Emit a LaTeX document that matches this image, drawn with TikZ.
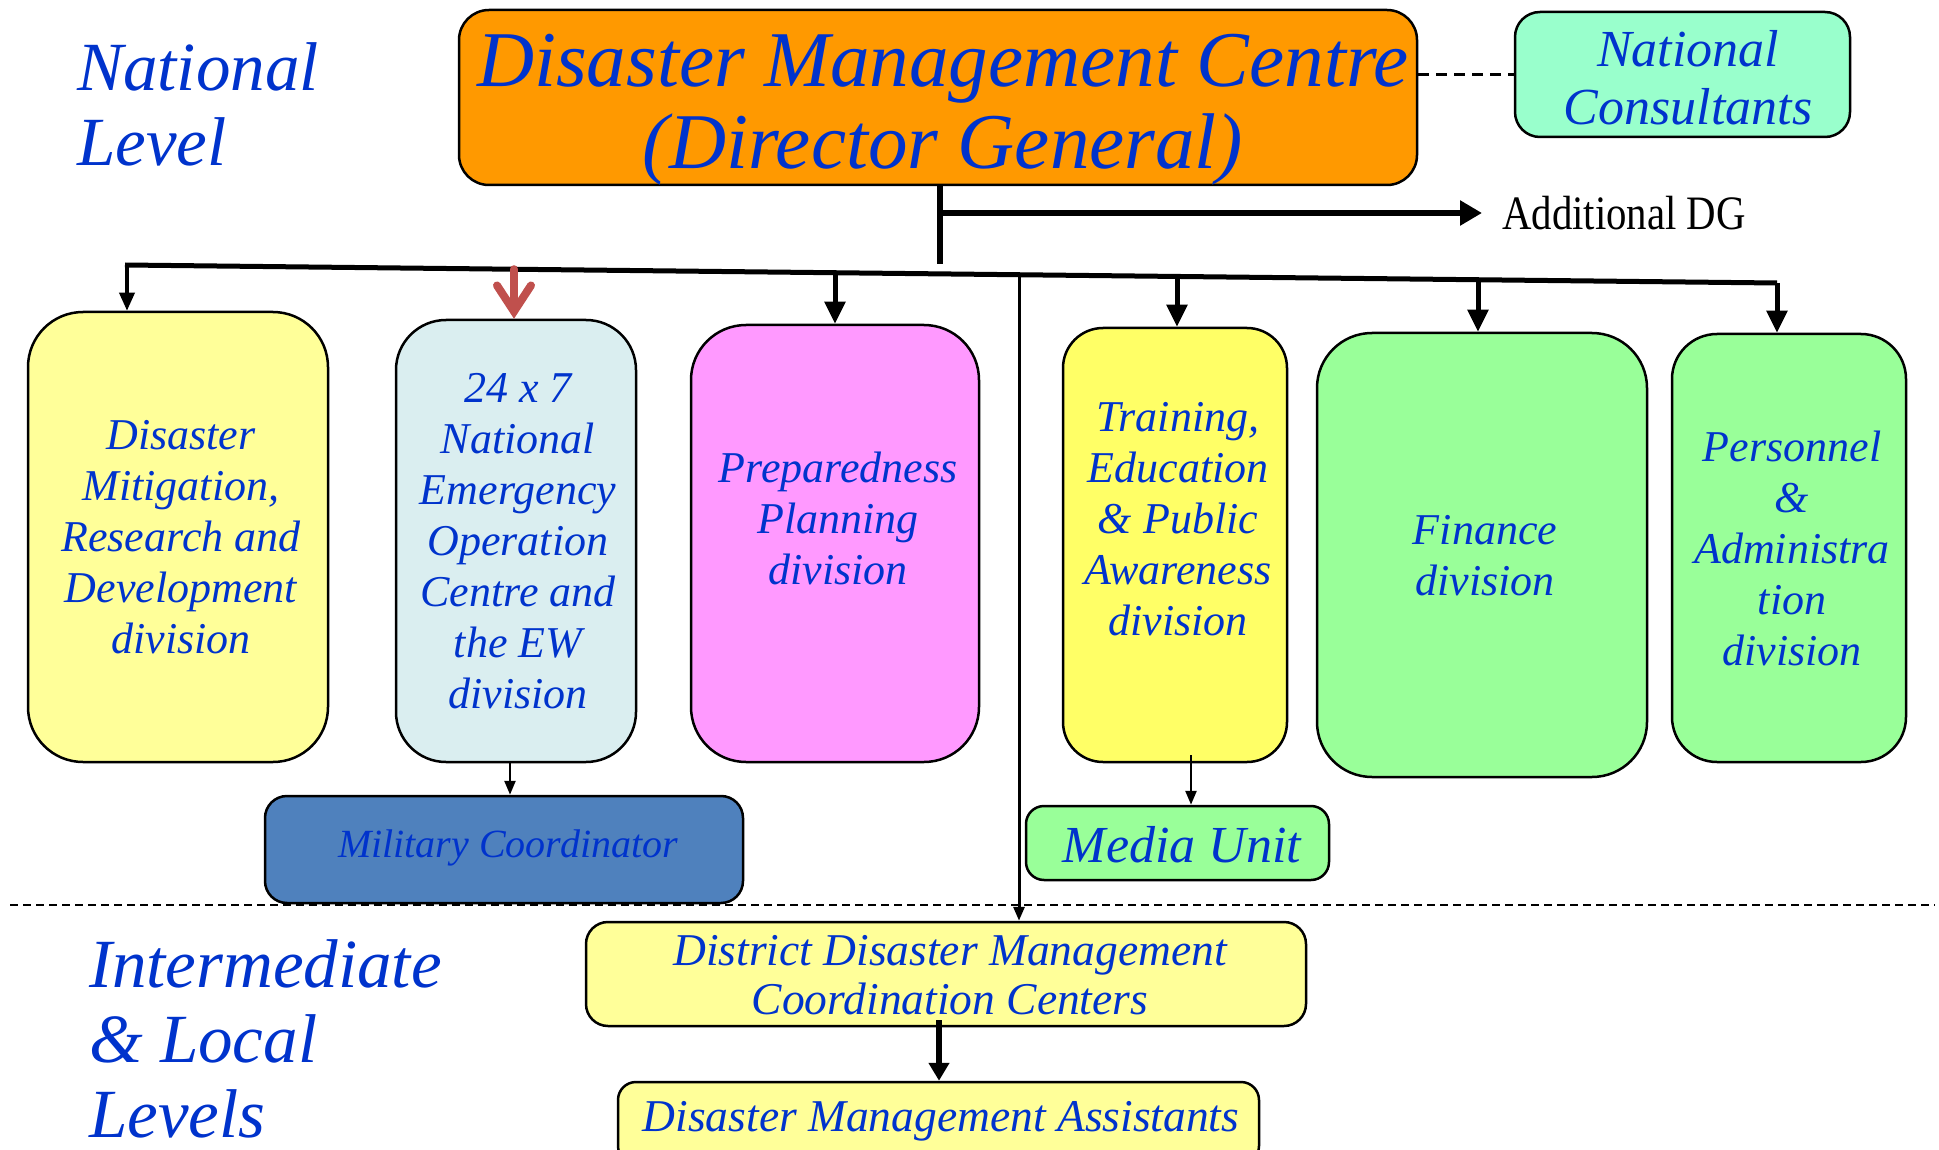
\documentclass[tikz,border=0pt]{standalone}
\usepackage{fontspec}
\setmainfont{Liberation Serif}[ItalicFont={Liberation Serif Italic}]
\newfontfamily\condfont[FakeStretch=0.85]{Liberation Serif}
\usetikzlibrary{arrows.meta,calc}
\definecolor{txtblue}{RGB}{0,51,204}
\definecolor{dmcorange}{RGB}{255,153,0}
\definecolor{mint}{RGB}{153,255,204}
\definecolor{paleyellow}{RGB}{255,255,153}
\definecolor{brightyellow}{RGB}{255,255,102}
\definecolor{palecyan}{RGB}{218,238,240}
\definecolor{pinkish}{RGB}{255,153,255}
\definecolor{lightgreen}{RGB}{153,255,153}
\definecolor{steelblue}{RGB}{79,129,189}
\definecolor{redarrow}{RGB}{192,80,77}
\tikzset{
  rbox/.style={draw=black, line width=2.5pt, rounded corners=#1, inner sep=0pt},
  lbl/.style={font=\fontsize{44}{51}\selectfont\itshape, text=txtblue, align=center, inner sep=0pt},
  biglbl/.style={font=\fontsize{69}{75}\selectfont\itshape, text=txtblue, align=left, inner sep=0pt},
  thickarrow/.style={line width=5pt, -{Triangle[length=22pt,width=20pt]}},
  midarrow/.style={line width=3.5pt, -{Triangle[length=18pt,width=15pt]}},
  thinarrow/.style={line width=2.5pt, -{Triangle[length=14pt,width=11pt]}},
  redtip/.style={line width=8pt, draw=redarrow, line cap=round, -{Straight Barb[length=26pt,width=34pt,line cap=round]}},
  busline/.style={line width=5pt},
  dashline/.style={line width=2pt, dash pattern=on 8pt off 5pt},
  consdash/.style={line width=2.5pt, dash pattern=on 11pt off 7pt}
}
\begin{document}
\begin{tikzpicture}[x=1pt,y=-1pt]
\useasboundingbox (0,0) rectangle (1939,1150);

% level labels
\node[biglbl, anchor=west] (natlvl) at (77,104) {National\\Level};
\node[biglbl, anchor=west] (intlvl) at (89,1039) {Intermediate\\\& Local\\Levels};

% top boxes
\node[rbox=30pt, fill=dmcorange, minimum width=958pt, minimum height=175pt] (dmc) at (938,97.5) {};
\node[font=\fontsize{79}{82}\selectfont\itshape, text=txtblue, align=center, inner sep=0pt] (dmctxt) at (943,110) {Disaster Management Centre\\(Director General)};
\node[rbox=25pt, fill=mint, minimum width=335pt, minimum height=125pt] (cons) at (1682.5,74.5) {};
\node[lbl, font=\fontsize{52}{58}\selectfont\itshape] (constxt) at (1688,78) {National\\Consultants};
\draw[consdash] (cons.west -| dmc.east) -- (cons.west);

% trunk and additional DG
\coordinate (trunktop) at (940,185);
\coordinate (trunkbot) at (940,264);
\coordinate (adgstart) at (940,213);
\draw[line width=5.5pt] (trunktop) -- (trunkbot);
\node[font=\fontsize{48}{50}\condfont, anchor=west, inner sep=0pt] (adg) at (1502,213) {Additional DG};
\draw[line width=6pt, -{Triangle[length=22pt,width=24pt]}] (adgstart) -- ([xshift=-20pt]adg.west);

% bus
\coordinate (busL) at (127,265);
\coordinate (busR) at (1777,283);
\draw[busline] ([xshift=-2pt]busL) -- (busR);
\coordinate (d2) at (514,269.2);
\coordinate (d3) at (835,272.7);
\coordinate (d4) at (1019,274.7);
\coordinate (d5) at (1177,276.5);
\coordinate (d6) at (1478,279.7);

% division boxes
\node[rbox=55pt, fill=paleyellow, minimum width=300pt, minimum height=450pt] (b1) at (178,537) {};
\node[lbl] (b1t) at (181,537) {Disaster\\Mitigation,\\Research and\\Development\\division};
\node[rbox=50pt, fill=palecyan, minimum width=240pt, minimum height=442pt] (b2) at (516,541) {};
\node[lbl] (b2t) at (518,541) {24 x 7\\National\\Emergency\\Operation\\Centre and\\the EW\\division};
\node[rbox=55pt, fill=pinkish, minimum width=288pt, minimum height=437pt] (b3) at (835,543.5) {};
\node[lbl] (b3t) at (838,518) {Preparedness\\Planning\\division};
\node[rbox=40pt, fill=brightyellow, minimum width=224pt, minimum height=434pt] (b4) at (1175,545) {};
\node[lbl] (b4t) at (1178,519) {Training,\\Education\\\& Public\\Awareness\\division};
\node[rbox=55pt, fill=lightgreen, minimum width=330pt, minimum height=444pt] (b5) at (1482,555) {};
\node[lbl] (b5t) at (1485,556) {Finance\\division};
\node[rbox=45pt, fill=lightgreen, minimum width=234pt, minimum height=428pt] (b6) at (1789,548) {};
\node[lbl] (b6t) at (1792,548) {Personnel\\\&\\Administra\\tion\\division};

% lower boxes
\node[rbox=22pt, fill=steelblue, minimum width=478pt, minimum height=107pt] (mil) at (504,849.5) {};
\node[lbl, font=\fontsize{40}{44}\selectfont\itshape] (milt) at (508,848) {Military Coordinator};
\node[rbox=18pt, fill=lightgreen, minimum width=303pt, minimum height=74pt] (media) at (1177.5,843) {};
\node[lbl, font=\fontsize{52}{56}\selectfont\itshape] (mediat) at (1182,845) {Media Unit};
\node[rbox=22pt, fill=paleyellow, minimum width=720pt, minimum height=104pt] (ddm) at (946,974) {};
\node[lbl, font=\fontsize{45.5}{49}\selectfont\itshape] (ddmt) at (950,975) {District Disaster Management\\Coordination Centers};
\node[rbox=18pt, fill=paleyellow, minimum width=641pt, minimum height=82pt] (dma) at (938.5,1123) {};
\node[lbl, font=\fontsize{45.5}{49}\selectfont\itshape] (dmat) at (941,1121) {Disaster Management Assistants};

% level separator
\coordinate (sepL) at (10,905);
\coordinate (sepR) at (1935,905);
\draw[dashline] (sepL) -- (sepR);

% drops
\draw[midarrow] (busL) -- (busL |- b1.north);
\draw[redtip] (d2) -- (d2 |- b2.north);
\draw[thickarrow] (d3) -- (d3 |- b3.north);
\draw[thinarrow, line width=3pt] (d4) -- (d4 |- ddm.north);
\draw[thickarrow] (d5) -- (d5 |- b4.north);
\draw[thickarrow] (d6) -- (d6 |- b5.north);
\draw[thickarrow] (busR) -- (busR |- b6.north);

% sub arrows
\coordinate (milsrc) at ([xshift=-6pt]b2.south);
\draw[thinarrow] (milsrc) -- (milsrc |- mil.north);
\coordinate (medsrc) at ([xshift=16pt,yshift=8pt]b4.south);
\draw[thinarrow] (medsrc) -- (medsrc |- media.north);
\coordinate (dmasrc) at ([xshift=-7pt,yshift=7pt]ddm.south);
\draw[line width=6pt, -{Triangle[length=18pt,width=20pt]}] (dmasrc) -- (dmasrc |- dma.north);
\end{tikzpicture}
\end{document}
